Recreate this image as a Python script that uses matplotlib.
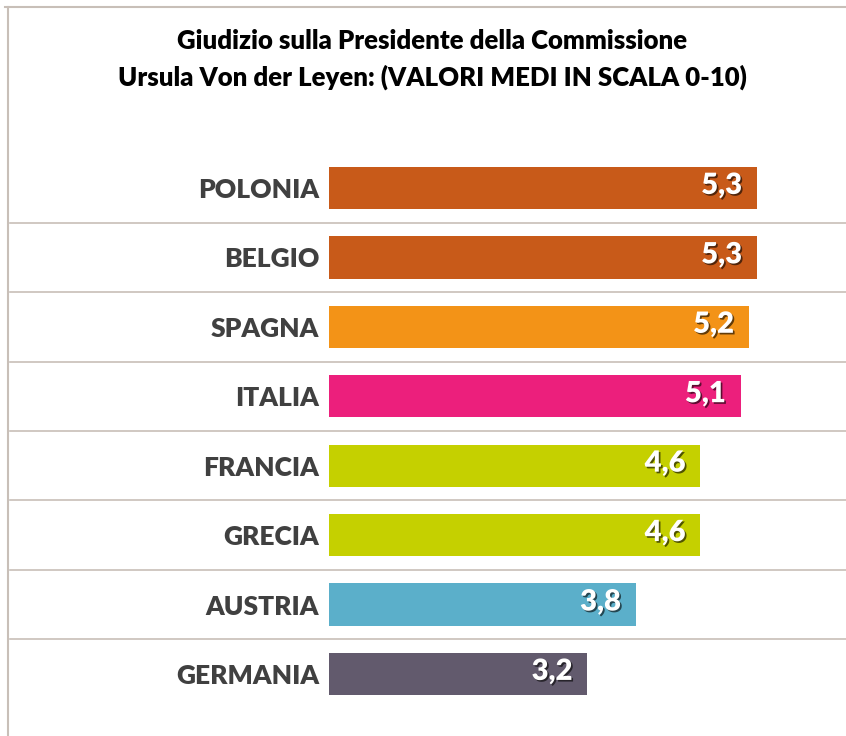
import matplotlib
matplotlib.use("Agg")
import matplotlib.pyplot as plt
import matplotlib.patheffects as pe
from matplotlib.lines import Line2D

paesi = ["POLONIA", "BELGIO", "SPAGNA", "ITALIA", "FRANCIA", "GRECIA", "AUSTRIA", "GERMANIA"]
valori = [5.3, 5.3, 5.2, 5.1, 4.6, 4.6, 3.8, 3.2]
colori = ["#C85A19", "#C85A19", "#F39317", "#EC1F7C", "#C5D000", "#C5D000", "#5BAFCA", "#625A6D"]
titolo = ["Giudizio sulla Presidente della Commissione",
          "Ursula Von der Leyen: (VALORI MEDI IN SCALA 0-10)"]

plt.rcParams["font.family"] = ["Lato", "DejaVu Sans"]

W, H = 846, 736
fig = plt.figure(figsize=(W / 100, H / 100), dpi=100)
fig.patch.set_facecolor("white")

# axes: x=0 at px 329, row centres from 188 to 674 px
x0 = 329
px_per_unit = (757 - 329) / 5.3
row_h = (674 - 188) / 7
top = 188 - row_h / 2
bot = 674 + row_h / 2
ax = fig.add_axes([x0 / W, 1 - bot / H, (W - x0) / W, (bot - top) / H])
ax.set_xlim(0, (W - x0) / px_per_unit)
ax.set_ylim(len(paesi) - 0.5, -0.5)

ypos = list(range(len(paesi)))
ax.barh(ypos, valori, height=0.61, color=colori, edgecolor="none")

for y, v in zip(ypos, valori):
    ax.text(v - 15 / px_per_unit, y - 0.03, f"{v:.1f}".replace(".", ","),
            ha="right", va="center", color="white", fontsize=21, fontweight="heavy",
            path_effects=[pe.withSimplePatchShadow(offset=(1.2, -1.2), shadow_rgbFace="black", alpha=0.6)])

# separators
left_data = (10 - x0) / px_per_unit
for i in range(len(paesi) - 1):
    ax.plot([left_data, ax.get_xlim()[1]], [i + 0.5, i + 0.5], color="#C8BFB8",
            lw=1.2, clip_on=False)

ax.set_yticks(ypos)
ax.set_yticklabels(paesi, fontsize=19, fontweight="heavy", color="#404040")
ax.tick_params(axis="y", length=0, pad=7)
ax.set_xticks([])
for s in ax.spines.values():
    s.set_visible(False)

# frame
fig.add_artist(Line2D([5 / W, 1], [1 - 7 / H, 1 - 7 / H], color="#C8BFB8", lw=1.5))
fig.add_artist(Line2D([8 / W, 8 / W], [0, 1 - 7 / H], color="#C8BFB8", lw=1.5))

fig.text(432 / W, 1 - 41 / H, titolo[0], ha="center", va="center", fontsize=18.5, fontweight="heavy", color="black")
fig.text(432 / W, 1 - 77 / H, titolo[1], ha="center", va="center", fontsize=18.5, fontweight="heavy", color="black")

fig.savefig("out.png", dpi=100, facecolor="white")
